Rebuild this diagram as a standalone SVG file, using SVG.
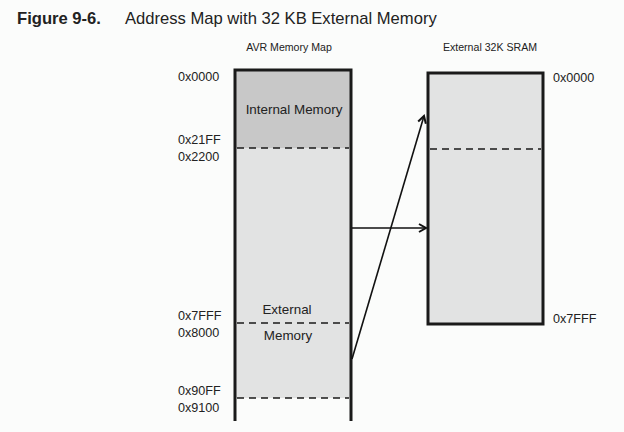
<svg xmlns="http://www.w3.org/2000/svg" width="624" height="432" viewBox="0 0 624 432">
<style>
text{font-family:"Liberation Sans",Arial,sans-serif;fill:#222}
.addr{font-size:12.6px}
.cap{font-size:10.6px}
.lbl{font-size:13.4px}
.box{stroke:#1a1a1a;stroke-width:3;fill:none}
.dash{stroke:#1a1a1a;stroke-width:1.5;stroke-dasharray:7,5}
.conn{stroke:#111;stroke-width:1.6;fill:none}
</style>
<defs>
<marker id="arr" markerWidth="10" markerHeight="10" refX="8" refY="5" orient="auto" markerUnits="userSpaceOnUse">
<path d="M1,1 L8,5 L1,9" fill="none" stroke="#111" stroke-width="2"/>
</marker>
</defs>
<rect width="624" height="432" fill="#fbfcfb"/>
<text x="17" y="24" style="font-size:16.6px;font-weight:bold">Figure 9-6.</text>
<text x="125" y="24" style="font-size:16.6px">Address Map with 32 KB External Memory</text>

<g id="avr-map">
<text class="cap" x="289" y="51" text-anchor="middle">AVR Memory Map</text>
<rect x="235" y="70" width="116" height="78" fill="#c8c8c8"/>
<rect x="235" y="148" width="116" height="250" fill="#e2e3e3"/>
<line class="dash" x1="237" y1="148" x2="349" y2="148"/>
<line class="dash" x1="237" y1="323" x2="349" y2="323"/>
<line class="dash" x1="237" y1="398" x2="349" y2="398"/>
<path class="box" d="M235,421 V70 H351 V421"/>
<text class="lbl" x="294" y="114" text-anchor="middle">Internal Memory</text>
<text class="lbl" x="287" y="314" text-anchor="middle">External</text>
<text class="lbl" x="288" y="340" text-anchor="middle">Memory</text>
<text class="addr" x="178" y="81">0x0000</text>
<text class="addr" x="178" y="144">0x21FF</text>
<text class="addr" x="178" y="161">0x2200</text>
<text class="addr" x="178" y="320">0x7FFF</text>
<text class="addr" x="178" y="337">0x8000</text>
<text class="addr" x="178" y="395">0x90FF</text>
<text class="addr" x="178" y="412">0x9100</text>
</g>

<g id="sram">
<text class="cap" x="490" y="51" text-anchor="middle">External 32K SRAM</text>
<rect x="428" y="73" width="115" height="251" fill="#e2e3e3"/>
<line class="dash" x1="430" y1="149" x2="541" y2="149"/>
<rect class="box" x="428" y="73" width="115" height="251"/>
<text class="addr" x="553" y="82">0x0000</text>
<text class="addr" x="553" y="323">0x7FFF</text>
</g>

<g id="connectors">
<line class="conn" x1="352" y1="228" x2="426" y2="228" marker-end="url(#arr)"/>
<line class="conn" x1="352" y1="359" x2="424" y2="116" marker-end="url(#arr)"/>
</g>
</svg>
